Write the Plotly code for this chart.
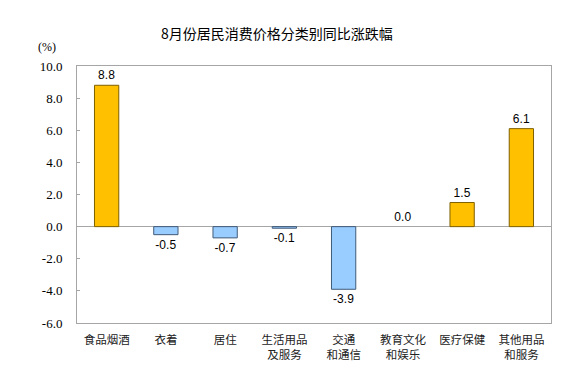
import plotly.graph_objects as go

categories = ["食品烟酒", "衣着", "居住", "生活用品<br>及服务", "交通<br>和通信", "教育文化<br>和娱乐", "医疗保健", "其他用品<br>和服务"]
values = [8.8, -0.5, -0.7, -0.1, -3.9, 0.0, 1.5, 6.1]
tick_vals = [-6, -4, -2, 0, 2, 4, 6, 8, 10]
tick_text = ["-6.0", "-4.0", "-2.0", "0.0", "2.0", "4.0", "6.0", "8.0", "10.0"]
title = "8月份居民消费价格分类别同比涨跌幅"

colors = ["#FFC000" if v >= 0 else "#99CCFF" for v in values]
lines = ["rgba(0,0,0,0)" if v == 0 else ("#7F6000" if v > 0 else "#3F5A78") for v in values]

fig = go.Figure()
fig.add_trace(go.Bar(
    x=categories, y=values,
    marker=dict(color=colors, line=dict(color=lines, width=1)),
    width=0.41,
    text=[f"{v:.1f}" for v in values],
    textposition="outside",
    textfont=dict(family="Liberation Sans, Arial", size=12, color="black"),
    cliponaxis=False,
))

fig.update_layout(
    width=580, height=375,
    margin=dict(l=69, r=37, t=58, b=60),
    plot_bgcolor="white", paper_bgcolor="white",
    showlegend=False,
    bargap=0.59,
    xaxis=dict(
        showline=True, linecolor="#A6A6A6", linewidth=1, mirror=True,
        tickfont=dict(family="Noto Sans CJK SC", size=11.5, color="#222"),
        ticks="", showgrid=False, ticklabelstandoff=6, automargin=False,
    ),
    yaxis=dict(
        range=[-6, 10], tickvals=tick_vals, ticktext=tick_text,
        showline=True, linecolor="#A6A6A6", linewidth=1, mirror=True,
        ticks="inside", ticklen=3, tickcolor="#A6A6A6",
        tickfont=dict(family="Liberation Serif", size=13, color="black"),
        ticklabelstandoff=11,
        showgrid=False, zeroline=True, zerolinecolor="#A6A6A6", zerolinewidth=1,
        automargin=False,
    ),
    annotations=[
        dict(text=title, xref="paper", yref="paper", x=0.422, y=1.0, yshift=33,
             showarrow=False, xanchor="center", yanchor="middle",
             font=dict(family="Noto Sans CJK SC", size=14, color="black")),
        dict(text="(%)", xref="paper", yref="paper", x=0, xshift=-30, y=1.0, yshift=19,
             showarrow=False, xanchor="center", yanchor="middle",
             font=dict(family="Liberation Serif", size=12, color="black")),
    ],
)

fig.write_html("out.html")
